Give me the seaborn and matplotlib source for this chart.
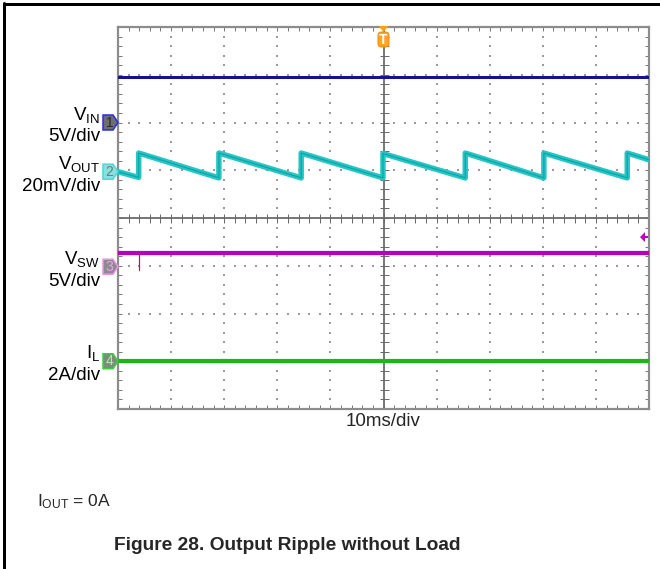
import numpy as np
import pandas as pd
import matplotlib
matplotlib.use("Agg")
import matplotlib.pyplot as plt
import matplotlib.transforms as mtrans
from matplotlib.patches import Polygon, FancyBboxPatch
from matplotlib.lines import Line2D
import seaborn as sns

# ---------------- data (time in ms, amplitude in screen divisions) ----------------
time_ms_limits = [0, 100]
div_limits = [-4, 4]

vin_t = [0, 100]
vin_div = [2.95, 2.95]

vout_t = [0, 3.9, 3.9, 19.0, 19.0, 34.5, 34.5, 49.9, 49.9, 65.4, 65.4, 80.2, 80.2, 95.9, 95.9, 100]
vout_div = [0.97, 0.85, 1.36, 0.84, 1.36, 0.84, 1.36, 0.84, 1.35, 0.84, 1.36, 0.84, 1.36, 0.84, 1.36, 1.22]

vsw_t = [0, 100]
vsw_div = [-0.73, -0.73]
vsw_spike_t = [3.9, 3.9]
vsw_spike_div = [-0.73, -1.09]

il_t = [0, 100]
il_div = [-3.0, -3.0]

channel_ids = ["1", "2", "3", "4"]
channel_offsets = [2.0, 0.97, -1.02, -3.0]
channel_names = ["V$_{\\mathregular{IN}}$", "V$_{\\mathregular{OUT}}$", "V$_{\\mathregular{SW}}$", "I$_{\\mathregular{L}}$"]
channel_scales = ["5V/div", "20mV/div", "5V/div", "2A/div"]
trigger_t = 50
vsw_trigger_level = -0.4

timebase_label = "10ms/div"
condition_label = "I$_{\\mathregular{OUT}}$ = 0A"
title_text = "Figure 28. Output Ripple without Load"

# ---------------- style ----------------
sns.set_theme(style="white")
plt.rcParams["font.family"] = ["Liberation Sans", "DejaVu Sans"]
plt.rcParams["mathtext.fontset"] = "custom"
plt.rcParams["mathtext.rm"] = "Liberation Sans"
plt.rcParams["mathtext.it"] = "Liberation Sans:italic"
plt.rcParams["mathtext.bf"] = "Liberation Sans:bold"

W, H = 660, 569
fig = plt.figure(figsize=(W / 100, H / 100), dpi=100)
fig.patch.set_facecolor("white")
L, R, T, B = 118, 649, 27, 409
ax = fig.add_axes([L / W, 1 - B / H, (R - L) / W, (B - T) / H])
ax.set_facecolor("white")
ax.set_xlim(time_ms_limits)
ax.set_ylim(div_limits)

PT = 0.72  # points per pixel

# dotted grid
gx_major = np.arange(10, 100, 10)
gy_major = np.arange(-3, 4, 1)
gx_minor = np.arange(0, 100.01, 2)
gy_minor = np.arange(-4, 4.01, 0.2)
dots_x, dots_y = [], []
for gx in gx_major:
    if gx == 50:
        continue
    dots_x += [gx] * len(gy_minor)
    dots_y += list(gy_minor)
for gy in gy_major:
    if gy == 0:
        continue
    dots_x += list(gx_minor)
    dots_y += [gy] * len(gx_minor)
ax.scatter(dots_x, dots_y, s=1.2, marker="s", color="#9a9a9a", linewidths=0, zorder=1)

# center cross with ticks
ax.axhline(0, color="#6a6a6a", lw=1.8 * PT, zorder=1.5)
ax.axvline(50, color="#6a6a6a", lw=1.8 * PT, zorder=1.5)
ax.plot(gx_minor, np.zeros_like(gx_minor), ls="none", marker="|", ms=9 * PT, mew=1.0 * PT, color="#6a6a6a", zorder=1.5)
ax.plot(np.full_like(gy_minor, 50), gy_minor, ls="none", marker="_", ms=9 * PT, mew=1.0 * PT, color="#6a6a6a", zorder=1.5)

# frame ticks
ax.set_xticks(np.arange(0, 101, 10))
ax.set_yticks(np.arange(-4, 5, 1))
ax.set_xticks(gx_minor, minor=True)
ax.set_yticks(gy_minor, minor=True)
ax.tick_params(which="both", direction="in", top=True, right=True, bottom=True, left=True,
               labelbottom=False, labelleft=False, length=4 * PT, width=1.0 * PT, color="#7a7a7a")
for s in ax.spines.values():
    s.set_color("#8c8c8c")
    s.set_linewidth(2.2 * PT)
ax.set_xlabel("")
ax.set_ylabel("")

# ---------------- traces ----------------
sns.lineplot(x=vin_t, y=vin_div, ax=ax, color="#14148c", lw=3 * PT, zorder=3)
sns.lineplot(x=vout_t, y=vout_div, ax=ax, color="#26c6c6", lw=5.5 * PT, zorder=3, sort=False, estimator=None)
sns.lineplot(x=vout_t, y=vout_div, ax=ax, color="#0a9a9a", lw=1.2 * PT, zorder=3.1, sort=False, estimator=None, alpha=0.8)
sns.lineplot(x=vsw_t, y=vsw_div, ax=ax, color="#b800b8", lw=4.2 * PT, zorder=3)
sns.lineplot(x=vsw_spike_t, y=vsw_spike_div, ax=ax, color="#b800b8", lw=1.2 * PT, zorder=3, sort=False, estimator=None)
sns.lineplot(x=il_t, y=il_div, ax=ax, color="#1eb41e", lw=4.2 * PT, zorder=3)
if ax.get_legend() is not None:
    ax.get_legend().remove()

# ---------------- channel markers and labels ----------------
blend = mtrans.blended_transform_factory(ax.transAxes, ax.transData)
marker_fill = ["#6e6e6e", "#86e2e2", "#8c8c8c", "#7c8c7c"]
marker_edge = ["#2a2ae6", "#4cd6d6", "#f090f0", "#3ccf3c"]
marker_txt = ["#2a2a2a", "#6a7a7a", "#f0a0f0", "#a8f0a8"]
pent = np.array([[-15, -7.5], [-5, -7.5], [0, 0], [-5, 7.5], [-15, 7.5]])
for cid, off, name, scale, fc, ec, tc in zip(channel_ids, channel_offsets, channel_names,
                                           channel_scales, marker_fill, marker_edge, marker_txt):
    tr = mtrans.Affine2D() + mtrans.ScaledTranslation(0, off, blend)
    poly = Polygon(pent, closed=True, facecolor=fc, edgecolor=ec, lw=1.5 * PT, transform=tr,
                   clip_on=False, zorder=5)
    ax.add_patch(poly)
    ax.annotate(cid, xy=(0, off), xycoords=blend, xytext=(-8.5 * PT, 0), textcoords="offset points",
                ha="center", va="center", fontsize=10, color=tc, annotation_clip=False, zorder=6)
    ax.annotate(name + "\n" + scale, xy=(0, off), xycoords=blend, xytext=(-18 * PT, -2.5 * PT),
                textcoords="offset points", ha="right", va="center", multialignment="right",
                fontsize=13.5, color="black", linespacing=1.3, annotation_clip=False)

# trigger marker at top
trig_blend = mtrans.blended_transform_factory(ax.transData, ax.transAxes)
trig_tr = mtrans.Affine2D() + mtrans.ScaledTranslation(trigger_t, 1.0, trig_blend)
ax.add_patch(Polygon(np.array([[-5, 1], [5, 1], [0, -5]]), closed=True, facecolor="#ff9e1a",
                     edgecolor="none", transform=trig_tr, clip_on=False, zorder=6))
ax.add_patch(FancyBboxPatch((-4.5, -19), 9, 13, boxstyle="round,pad=1.0,rounding_size=3.5",
                            facecolor="#ffa424", edgecolor="#f08c00", lw=0.7, transform=trig_tr,
                            clip_on=False, zorder=6))
ax.annotate("T", xy=(trigger_t, 1.0), xycoords=trig_blend,
            xytext=(0, -12.5 * PT), textcoords="offset points", ha="center", va="center",
            fontsize=10, fontweight="bold", color="white", annotation_clip=False, zorder=7)

# VSW trigger level arrow at right
lvl_tr = mtrans.Affine2D() + mtrans.ScaledTranslation(1.0, vsw_trigger_level, blend)
ax.add_patch(Polygon(np.array([[-9, 0], [-4, 5], [-4, -5]]), closed=True, facecolor="#c000c0",
                     edgecolor="none", transform=lvl_tr, clip_on=False, zorder=6))
ax.add_patch(Polygon(np.array([[-5, -1.2], [-1, -1.2], [-1, 1.2], [-5, 1.2]]), closed=True, facecolor="#c000c0",
                     edgecolor="none", transform=lvl_tr, clip_on=False, zorder=6))

# ---------------- texts ----------------
fig.text(383 / W, 1 - 422 / H, timebase_label, ha="center", va="center", fontsize=13.5)
fig.text(37 / W, 1 - 502 / H, condition_label, ha="left", va="center", fontsize=12.5)
fig.text(287 / W, 1 - 546 / H, title_text, ha="center", va="center", fontsize=13.8, fontweight="bold")

# outer frame (top and left)
fig.add_artist(Line2D([3.5 / W, 1.0], [1 - 4 / H, 1 - 4 / H], transform=fig.transFigure, color="black", lw=3 * PT))
fig.add_artist(Line2D([4 / W, 4 / W], [0, 1 - 3 / H], transform=fig.transFigure, color="black", lw=3 * PT))

fig.savefig("out.png", dpi=100)
